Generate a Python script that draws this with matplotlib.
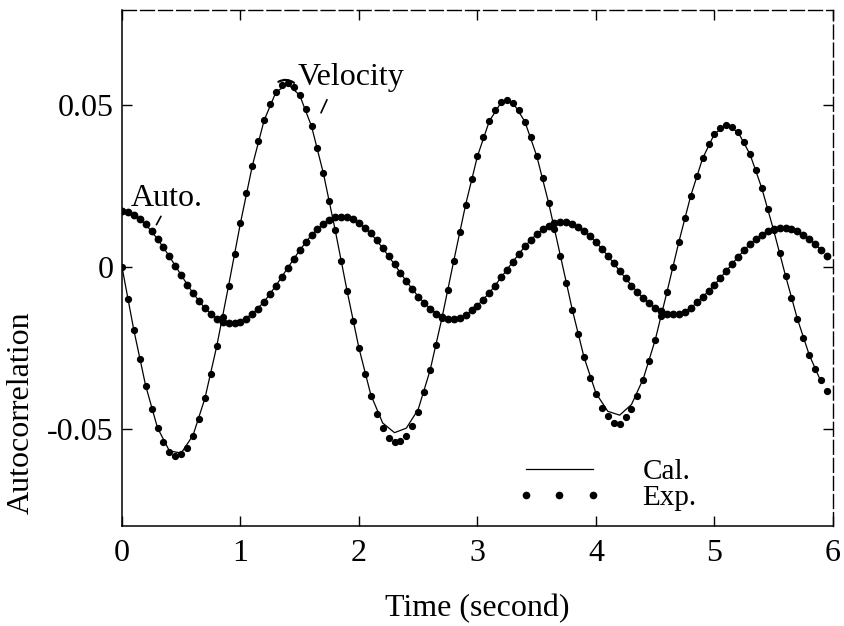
import numpy as np
import matplotlib
matplotlib.use('Agg')
import matplotlib.pyplot as plt
from matplotlib.lines import Line2D

plt.rcParams['font.family'] = ['Liberation Serif', 'DejaVu Serif']
plt.rcParams['axes.unicode_minus'] = False

# measured points (every 0.05 s)
time_exp = np.round(np.arange(120) * 0.05, 2)
vel_exp = [0.0, -0.0099, -0.0195, -0.0285, -0.0367, -0.0439, -0.0497, -0.0541, -0.0571, -0.0583,
           -0.0579, -0.0558, -0.0522, -0.0470, -0.0406, -0.0330, -0.0245, -0.0154, -0.0058, 0.0039,
           0.0135, 0.0226, 0.0311, 0.0387, 0.0452, 0.0503, 0.0539, 0.0560, 0.0566, 0.0555,
           0.0529, 0.0488, 0.0433, 0.0365, 0.0288, 0.0203, 0.0112, 0.0019, -0.0075, -0.0166,
           -0.0251, -0.0330, -0.0398, -0.0455, -0.0498, -0.0528, -0.0541, -0.0539, -0.0523, -0.0492,
           -0.0447, -0.0388, -0.0320, -0.0243, -0.0159, -0.0071, 0.0018, 0.0106, 0.0191, 0.0270,
           0.0341, 0.0401, 0.0449, 0.0485, 0.0507, 0.0514, 0.0506, 0.0484, 0.0448, 0.0401,
           0.0342, 0.0273, 0.0198, 0.0117, 0.0034, -0.0050, -0.0132, -0.0209, -0.0280, -0.0342,
           -0.0394, -0.0435, -0.0462, -0.0483, -0.0484, -0.0465, -0.0438, -0.0400, -0.0351, -0.0292,
           -0.0226, -0.0153, -0.0077, 0.0000, 0.0077, 0.0150, 0.0219, 0.0281, 0.0334, 0.0378,
           0.0410, 0.0429, 0.0437, 0.0432, 0.0415, 0.0386, 0.0347, 0.0298, 0.0242, 0.0179,
           0.0112, 0.0042, -0.0028, -0.0096, -0.0161, -0.0220, -0.0272, -0.0316, -0.0350, -0.0384]
auto_exp = [0.0171, 0.0168, 0.0160, 0.0148, 0.0131, 0.0110, 0.0086, 0.0060, 0.0032, 0.0003,
            -0.0026, -0.0055, -0.0082, -0.0106, -0.0128, -0.0146, -0.0160, -0.0169, -0.0174, -0.0174,
            -0.0169, -0.0160, -0.0146, -0.0129, -0.0108, -0.0084, -0.0058, -0.0031, -0.0003, 0.0024,
            0.0051, 0.0076, 0.0098, 0.0117, 0.0133, 0.0144, 0.0152, 0.0154, 0.0152, 0.0146,
            0.0136, 0.0121, 0.0103, 0.0082, 0.0058, 0.0033, 0.0007, -0.0019, -0.0045, -0.0070,
            -0.0092, -0.0112, -0.0129, -0.0145, -0.0156, -0.0161, -0.0162, -0.0158, -0.0150, -0.0135,
            -0.0120, -0.0102, -0.0081, -0.0058, -0.0033, -0.0009, 0.0016, 0.0040, 0.0063, 0.0083,
            0.0101, 0.0116, 0.0127, 0.0134, 0.0137, 0.0137, 0.0132, 0.0123, 0.0110, 0.0095,
            0.0076, 0.0056, 0.0034, 0.0010, -0.0013, -0.0036, -0.0058, -0.0079, -0.0097, -0.0113,
            -0.0128, -0.0138, -0.0145, -0.0147, -0.0145, -0.0139, -0.0128, -0.0110, -0.0094, -0.0076,
            -0.0056, -0.0035, -0.0013, 0.0009, 0.0031, 0.0051, 0.0070, 0.0086, 0.0099, 0.0110,
            0.0117, 0.0120, 0.0120, 0.0117, 0.0110, 0.0099, 0.0086, 0.0070, 0.0052, 0.0033]

# calculated curves (every 0.1 s)
time_cal = np.round(np.arange(60) * 0.1, 1)
vel_cal = [0.0, -0.0195, -0.0367, -0.0497, -0.0568, -0.0575, -0.0520, -0.0406, -0.0245, -0.0058,
           0.0135, 0.0311, 0.0452, 0.0539, 0.0563, 0.0529, 0.0433, 0.0288, 0.0112, -0.0075,
           -0.0251, -0.0395, -0.0482, -0.0512, -0.0498, -0.0440, -0.0320, -0.0159, 0.0018, 0.0191,
           0.0341, 0.0449, 0.0507, 0.0506, 0.0448, 0.0342, 0.0198, 0.0034, -0.0132, -0.0280,
           -0.0390, -0.0446, -0.0458, -0.0425, -0.0345, -0.0226, -0.0077, 0.0077, 0.0219, 0.0334,
           0.0410, 0.0437, 0.0415, 0.0347, 0.0242, 0.0112, -0.0028, -0.0161, -0.0272, -0.0355]
auto_cal = [0.0171, 0.0160, 0.0131, 0.0086, 0.0032, -0.0026, -0.0082, -0.0128, -0.0160, -0.0174,
            -0.0169, -0.0146, -0.0108, -0.0058, -0.0003, 0.0051, 0.0098, 0.0133, 0.0152, 0.0152,
            0.0136, 0.0103, 0.0058, 0.0007, -0.0045, -0.0092, -0.0129, -0.0156, -0.0162, -0.0150,
            -0.0120, -0.0081, -0.0033, 0.0016, 0.0063, 0.0101, 0.0127, 0.0137, 0.0132, 0.0110,
            0.0076, 0.0034, -0.0013, -0.0058, -0.0097, -0.0128, -0.0145, -0.0145, -0.0128, -0.0094,
            -0.0056, -0.0013, 0.0031, 0.0070, 0.0099, 0.0117, 0.0120, 0.0110, 0.0086, 0.0052]

x_ticks = [0, 1, 2, 3, 4, 5, 6]
y_ticks = [-0.05, 0, 0.05]
y_tick_labels = ['-0.05', '0', '0.05']

fig = plt.figure(figsize=(8.44, 6.26), dpi=100)
ax = fig.add_axes([0.1445, 0.1597, 0.8424, 0.8243])

ax.plot(time_cal, vel_cal, color='black', linewidth=0.9)
ax.plot(time_cal, auto_cal, color='black', linewidth=0.9)
ax.plot(time_exp, vel_exp, linestyle='none', marker='o', markersize=4.2, color='black')
ax.plot(time_exp, auto_exp, linestyle='none', marker='o', markersize=4.6, color='black')

ax.set_xlim(0, 6)
ax.set_ylim(-0.080, 0.0792)
ax.set_xticks(x_ticks)
ax.set_yticks(y_ticks)
ax.set_yticklabels(y_tick_labels)
ax.tick_params(direction='in', length=7, width=1, top=True, right=True, labelsize=23)
ax.tick_params(axis='x', pad=9)
ax.tick_params(axis='y', pad=6)
for side in ['left', 'bottom']:
    ax.spines[side].set_linewidth(1.1)
for side in ['top', 'right']:
    ax.spines[side].set_linewidth(1.0)
    ax.spines[side].set_linestyle((0, (10, 3)))

ax.set_xlabel('Time (second)', fontsize=23, labelpad=19)
ax.set_ylabel('Autocorrelation', fontsize=23)
ax.yaxis.set_label_coords(-0.121, 0.22)

# curve labels with short leaders
ax.text(1.48, 0.0585, 'Velocity', fontsize=23, va='center', ha='left')
ax.annotate('', xy=(1.67, 0.0467), xytext=(1.74, 0.0523),
            arrowprops=dict(arrowstyle='-', color='black', lw=1.2))
ax.annotate('', xy=(1.30, 0.0566), xytext=(1.47, 0.0562),
            arrowprops=dict(arrowstyle='-', color='black', lw=1.6, connectionstyle='arc3,rad=0.4'))
ax.text(0.07, 0.0212, 'Auto.', fontsize=23, va='center', ha='left')
ax.annotate('', xy=(0.28, 0.0122), xytext=(0.34, 0.0163),
            arrowprops=dict(arrowstyle='-', color='black', lw=1.2))

handles = [Line2D([], [], color='black', linewidth=0.9),
           Line2D([], [], linestyle='none', marker='o', markersize=4.5, color='black')]
ax.legend(handles, ['Cal.', 'Exp.'], loc='center left', bbox_to_anchor=(0.535, 0.08),
          frameon=False, fontsize=21, numpoints=3, handlelength=2.9, handletextpad=1.4,
          labelspacing=-0.02, borderpad=0)

fig.savefig('out.png', dpi=100)
